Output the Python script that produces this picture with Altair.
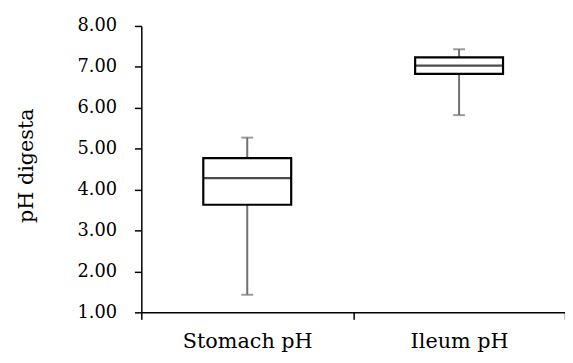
import altair as alt
import pandas as pd

categories = ["Stomach pH", "Ileum pH"]
mins = [1.43, 5.82]
q1s = [3.63, 6.83]
medians = [4.28, 7.03]
q3s = [4.77, 7.23]
maxs = [5.27, 7.43]

df = pd.DataFrame({
    "cat": categories, "min": mins, "q1": q1s, "median": medians,
    "q3": q3s, "max": maxs,
})

FONT = "DejaVu Serif"

x = alt.X("cat:N", sort=categories,
          scale=alt.Scale(paddingInner=0, paddingOuter=0),
          axis=alt.Axis(title=None, labelAngle=0, labelFont=FONT, labelFontSize=21,
                        labelColor="black", labelPadding=12, tickBand="extent",
                        tickSize=7, tickColor="black", tickWidth=1.5,
                        domainColor="black", domainWidth=1.5))

yscale = alt.Scale(domain=[1, 8], nice=False, zero=False)
yaxis = alt.Axis(title="pH digesta", values=[1, 2, 3, 4, 5, 6, 7, 8], format=".2f",
                 labelFont=FONT, labelFontSize=18, labelColor="black", labelPadding=18,
                 tickSize=7, tickColor="black", tickWidth=1.5, grid=False,
                 domainColor="black", domainWidth=1.5,
                 titleFont=FONT, titleFontSize=21, titleFontWeight="normal",
                 titleColor="black", titleAngle=270, titleX=-116, titleY=141,
                 titleBaseline="middle", titleAlign="center")

base = alt.Chart(df)

whisker = base.mark_rule(color="#707070", strokeWidth=2).encode(
    x=x, y=alt.Y("min:Q", scale=yscale, axis=yaxis), y2="max:Q")
cap_lo = base.mark_tick(color="#707070", thickness=2, size=12).encode(
    x=x, y=alt.Y("min:Q", scale=yscale))
cap_hi = base.mark_tick(color="#707070", thickness=2, size=12).encode(
    x=x, y=alt.Y("max:Q", scale=yscale))
box = base.mark_bar(fill="white", stroke="black", strokeWidth=2.2, size=89).encode(
    x=x, y=alt.Y("q1:Q", scale=yscale), y2="q3:Q")
med = base.mark_tick(color="black", thickness=2.2, size=89).encode(
    x=x, y=alt.Y("median:Q", scale=yscale))

chart = alt.layer(whisker, cap_lo, cap_hi, box, med).properties(
    width=429, height=290,
    autosize=alt.AutoSizeParams(type="none"),
    padding={"left": 135, "top": 16, "right": 0, "bottom": 40},
).configure_view(stroke=None)

chart.save("out.html", embed_options={"renderer": "svg", "actions": False})
